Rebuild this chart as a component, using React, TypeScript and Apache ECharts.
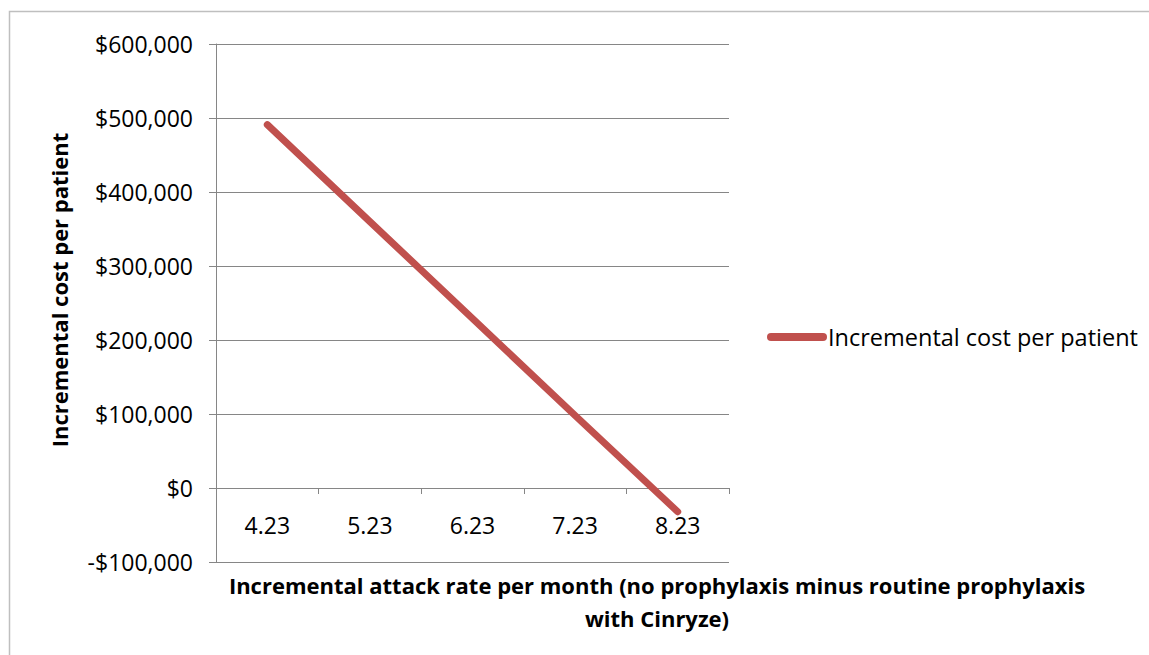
import React, { useEffect, useRef } from "react";
import * as echarts from "echarts";

const categories = ["4.23", "5.23", "6.23", "7.23", "8.23"];
const costValues = [491000, 360000, 229000, 98000, -32000];
const seriesName = "Incremental cost per patient";
const yTitle = "Incremental cost per patient";
const xTitleLines = [
  "Incremental attack rate per month (no prophylaxis minus routine prophylaxis",
  "with Cinryze)",
];
const yMin = -100000;
const yMax = 600000;
const yStep = 100000;

const FONT = "Open Sans";

function fmtMoney(v: number): string {
  const abs = Math.abs(v).toLocaleString("en-US");
  return (v < 0 ? "-$" : "$") + abs;
}

export default function App() {
  const ref = useRef<HTMLDivElement>(null);
  useEffect(() => {
    if (!ref.current) return;
    const chart = echarts.init(ref.current, null, { renderer: "svg" });
    const gridTop = 44;
    const gridHeight = 518;
    const zeroOffset = (gridHeight * (0 - yMin)) / (yMax - yMin);
    chart.setOption({
      animation: false,
      backgroundColor: "#ffffff",
      grid: { left: 216, top: gridTop, width: 513, height: gridHeight, containLabel: false },
      legend: {
        show: true,
        left: 762,
        top: 320,
        itemWidth: 60,
        itemHeight: 8,
        icon: "path://M4,0 H56 A4,4 0 0 1 56,8 H4 A4,4 0 0 1 4,0 Z",
        textStyle: { fontFamily: FONT, fontSize: 23.5, color: "#000000", padding: [0, 0, 0, -4] },
        data: [seriesName],
      },
      xAxis: {
        type: "category",
        data: categories,
        boundaryGap: true,
        position: "bottom",
        offset: -zeroOffset,
        axisLine: { show: true, onZero: false, lineStyle: { color: "#868686", width: 1 } },
        axisTick: { show: true, length: 6, inside: false, lineStyle: { color: "#868686" } },
        axisLabel: { fontFamily: FONT, fontSize: 23, color: "#000000", margin: 25 },
        splitLine: { show: false },
      },
      yAxis: {
        type: "value",
        min: yMin,
        max: yMax,
        interval: yStep,
        axisLine: { show: true, lineStyle: { color: "#868686", width: 1 } },
        axisTick: { show: true, length: 7, inside: false, lineStyle: { color: "#868686" } },
        axisLabel: {
          fontFamily: FONT,
          fontSize: 23,
          color: "#000000",
          margin: 23,
          formatter: (v: number) => fmtMoney(v),
        },
        splitLine: { show: true, lineStyle: { color: "#868686", width: 1 } },
      },
      series: [
        {
          name: seriesName,
          type: "line",
          data: costValues,
          showSymbol: false,
          symbol: "none",
          lineStyle: { color: "#C0504D", width: 7, cap: "round", join: "round" },
          itemStyle: { color: "#C0504D" },
        },
      ],
      graphic: [
        {
          type: "rect",
          z: -1,
          silent: true,
          shape: { x: 9.5, y: 11.5, width: 1300, height: 800 },
          style: { fill: "none", stroke: "#BFBFBF", lineWidth: 1.5 },
        },
        {
          type: "text",
          x: 59,
          y: 290,
          rotation: Math.PI / 2,
          style: {
            text: yTitle,
            fontFamily: FONT,
            fontSize: 22,
            fontWeight: "bold",
            fill: "#000000",
            align: "center",
            verticalAlign: "middle",
          },
        },
        {
          type: "text",
          x: 657,
          y: 585,
          style: {
            text: xTitleLines[0],
            fontFamily: FONT,
            fontSize: 22,
            fontWeight: "bold",
            fill: "#000000",
            align: "center",
            verticalAlign: "middle",
          },
        },
        {
          type: "text",
          x: 657,
          y: 618,
          style: {
            text: xTitleLines[1],
            fontFamily: FONT,
            fontSize: 22,
            fontWeight: "bold",
            fill: "#000000",
            align: "center",
            verticalAlign: "middle",
          },
        },
      ],
    });
    return () => chart.dispose();
  }, []);
  return (
    <div
      ref={ref}
      style={{ position: "absolute", left: 0, top: 0, width: 1149, height: 655, overflow: "hidden" }}
    />
  );
}
